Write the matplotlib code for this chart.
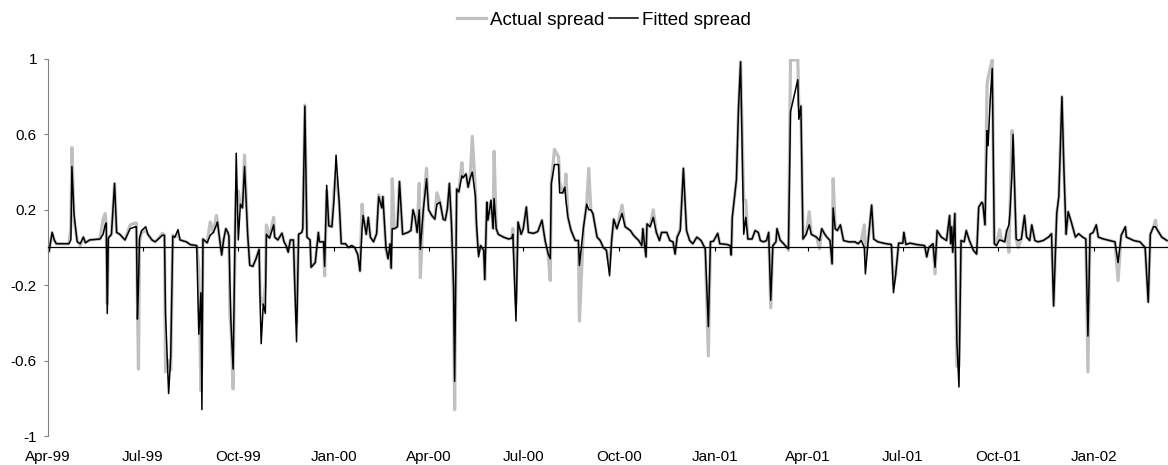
import matplotlib
matplotlib.use("Agg")
import matplotlib.pyplot as plt
import matplotlib.dates as mdates
import pandas as pd

plt.rcParams['font.family'] = ['Liberation Sans', 'DejaVu Sans']
plt.rcParams['font.size'] = 11

start = pd.Timestamp("1999-04-01")

# days since 1 Apr 1999
days = [
    # Q2-Q3 99
    1, 4, 6, 8, 20, 22, 23, 25, 28, 31,
    34, 36, 40, 50, 53, 55, 56, 57, 58, 61,
    64, 66, 69, 74, 79, 84, 85, 86, 87, 88,
    90, 94, 96, 100, 103, 106, 110, 112, 113, 116,
    118, 120, 122, 125, 127, 133, 137,
    # Q3 99 - Q1 00
    143, 145, 147, 148, 149, 153, 156, 159, 162, 163,
    167, 169, 171, 173, 174, 175, 176, 178, 180, 181,
    183, 185, 187, 189, 192, 194, 197, 200, 203, 204,
    205, 207, 209, 210, 213, 217, 218, 221, 225, 227,
    229, 231, 233, 236, 237, 239, 241, 244, 245, 247,
    249, 252, 253, 257, 260, 261, 265, 266, 268, 270,
    273, 275, 277, 280, 282, 286, 289, 292, 295, 298,
    300, 302, 303, 306, 308,
    # Q1 00 - Q3 00
    310, 313, 316, 318, 321, 322, 325, 327, 329, 330,
    331, 333, 336, 338, 341, 346, 349, 351, 353, 355,
    357, 358, 361, 364, 366, 369, 372, 374, 377, 380,
    382, 384, 386, 388, 390, 391, 393, 395, 398, 399,
    402, 404, 406, 408, 411, 412, 414, 416, 419, 420,
    422, 423, 426, 428, 429, 431, 433, 438, 443, 446,
    447, 450, 452, 455, 457, 460, 462, 467, 471, 475,
    478, 481, 483,
    # Q3 00 - Q1 01
    484, 487, 491, 492, 495, 497, 498, 500, 503, 507,
    510, 511, 515, 518, 520, 522, 524, 528, 531, 534,
    537, 540, 542, 544, 547, 552, 555, 560, 563, 568,
    571, 572, 575, 576, 579, 582, 585, 588, 590, 595,
    598, 601, 603, 605, 608, 611, 614, 617, 620, 624,
    628, 632, 635, 637, 640, 644, 646, 653,
    # Q1 01 - Q3 01
    656, 657, 658, 662, 664, 666, 669, 671, 673, 677,
    680, 683, 685, 688, 691, 693, 695, 697, 700, 701,
    704, 709, 712, 714, 721, 722, 724, 726, 729, 732,
    734, 739, 742, 744, 747, 749, 752, 754, 755, 757,
    759, 762, 765, 770, 776, 779, 782, 785, 786, 789,
    792, 794, 798, 806, 811, 813, 815, 818,
    # Q3 01 - Q1 02
    822, 823, 825, 829, 835, 843, 845, 847, 851, 853,
    855, 859, 864, 867, 868, 869, 870, 872, 874, 876,
    878, 881, 883, 886, 890, 893, 895, 898, 899, 901,
    903, 904, 906, 908, 910, 912, 915, 917, 920, 922,
    924, 925, 927, 928, 931, 933, 936, 939, 941, 944,
    946, 949, 952, 957, 962, 965, 967, 970, 972, 975,
    977, 979, 981, 984, 988, 991, 995, 998, 1000, 1002,
    1005, 1008, 1010, 1015, 1021, 1026, 1029, 1032, 1036, 1037,
    1044, 1050, 1055, 1058, 1060, 1063, 1065, 1066, 1071, 1076,
]

actual = [
    -0.02, 0.08, 0.04, 0.02, 0.02, 0.10, 0.53, 0.15, 0.04, 0.01,
    0.055, 0.025, 0.04, 0.045, 0.15, 0.18, 0.12, -0.30, 0.05, 0.07,
    0.34, 0.08, 0.07, 0.04, 0.12, 0.13, 0.13, -0.30, -0.645, 0.03,
    0.08, 0.09, 0.07, 0.04, 0.03, 0.045, 0.075, 0.065, -0.66, -0.60,
    -0.65, 0.065, 0.055, 0.07, 0.04, 0.03, 0.015,
    0.01, -0.11, -0.76, -0.60, 0.045, 0.025, 0.135, 0.08, 0.17, 0.13,
    -0.04, 0.045, 0.10, 0.08, 0.06, -0.37, -0.42, -0.75, 0.10, 0.30,
    0.30, 0.22, 0.21, 0.49, 0.07, -0.09, -0.10, -0.06, -0.01, -0.25,
    -0.30, -0.30, -0.20, 0.12, 0.05, 0.16, 0.055, 0.04, 0.076, 0.03,
    0.01, -0.025, 0.04, 0.04, -0.12, -0.40, 0.07, 0.08, 0.10, 0.755,
    0.055, 0.04, -0.105, -0.08, 0.08, 0.03, 0.03, -0.15, 0.30, 0.115,
    0.11, 0.30, 0.40, 0.24, 0.02, 0.02, 0.0, 0.01, 0.0, -0.04,
    -0.125, 0.23, 0.17, 0.07, 0.16,
    0.055, 0.03, 0.073, 0.28, 0.21, 0.27, -0.015, -0.06, 0.02, -0.11,
    0.365, 0.10, 0.11, 0.35, 0.07, 0.08, 0.09, 0.20, 0.16, 0.08,
    0.34, -0.16, 0.205, 0.42, 0.20, 0.17, 0.15, 0.29, 0.24, 0.15,
    0.145, 0.205, 0.34, 0.125, -0.30, -0.86, 0.31, 0.295, 0.45, 0.37,
    0.39, 0.32, 0.37, 0.59, 0.30, 0.11, -0.03, 0.01, -0.015, -0.17,
    0.24, 0.145, 0.25, 0.10, 0.51, 0.10, 0.07, 0.055, 0.045, 0.05,
    0.10, -0.30, 0.135, 0.07, 0.10, 0.215, 0.08, 0.075, 0.085, 0.145,
    0.037, -0.035, -0.175,
    0.34, 0.52, 0.48, 0.35, 0.29, 0.30, 0.39, 0.16, 0.09, 0.037,
    0.037, -0.39, 0.11, 0.23, 0.42, 0.20, 0.18, 0.055, 0.037, 0.0,
    -0.015, -0.10, 0.037, 0.15, 0.10, 0.225, 0.11, 0.09, 0.065, 0.037,
    0.01, 0.10, -0.05, 0.125, 0.11, 0.20, 0.08, 0.037, 0.08, 0.08,
    0.037, 0.03, -0.035, 0.055, 0.10, 0.42, 0.09, 0.037, 0.02, 0.055,
    0.037, -0.007, -0.575, 0.03, 0.034, 0.075, 0.02, 0.016,
    0.01, -0.04, 0.16, 0.36, 0.74, 0.985, 0.25, 0.25, 0.045, 0.045,
    0.09, 0.08, 0.037, 0.03, 0.037, 0.08, -0.32, 0.01, 0.03, 0.10,
    0.04, 0.01, -0.015, 0.995, 0.995, 0.75, 0.75, 0.045, 0.07, 0.19,
    0.07, 0.055, -0.007, 0.10, 0.07, 0.055, 0.037, -0.087, 0.365, 0.10,
    0.09, 0.12, 0.037, 0.03, 0.03, 0.02, 0.037, 0.12, -0.05, 0.055,
    0.225, 0.045, 0.03, 0.02, 0.016, -0.20, -0.15, 0.023,
    0.023, 0.08, 0.016, 0.023, 0.016, 0.01, -0.05, 0.0, 0.02, -0.14,
    0.09, 0.055, 0.037, 0.17, 0.02, 0.11, -0.025, 0.18, -0.63, -0.63,
    0.037, 0.03, 0.09, 0.037, -0.016, -0.035, 0.215, 0.24, 0.23, 0.12,
    0.86, 0.90, 0.95, 0.995, 0.02, 0.01, 0.095, 0.037, 0.03, 0.09,
    -0.025, 0.18, 0.62, 0.55, 0.045, 0.0, 0.045, 0.17, 0.055, 0.037,
    0.12, 0.037, 0.03, 0.037, 0.055, 0.073, -0.31, 0.18, 0.27, 0.80,
    0.40, 0.07, 0.19, 0.135, 0.055, 0.073, 0.055, 0.045, -0.66, 0.07,
    0.08, 0.12, 0.055, 0.045, 0.037, 0.03, -0.175, 0.065, 0.11, 0.055,
    0.037, 0.03, 0.0, -0.29, 0.07, 0.11, 0.145, 0.10, 0.055, 0.037,
]

fitted = [
    -0.02, 0.08, 0.04, 0.02, 0.02, 0.04, 0.43, 0.18, 0.03, 0.02,
    0.055, 0.025, 0.04, 0.045, 0.07, 0.12, 0.13, -0.35, 0.05, 0.07,
    0.34, 0.08, 0.07, 0.04, 0.10, 0.11, 0.11, -0.38, -0.20, 0.05,
    0.09, 0.11, 0.07, 0.04, 0.03, 0.045, 0.065, 0.065, -0.35, -0.775,
    -0.58, 0.06, 0.055, 0.095, 0.04, 0.03, 0.015,
    0.01, -0.46, -0.24, -0.86, 0.045, 0.025, 0.065, 0.08, 0.12, 0.135,
    -0.04, 0.045, 0.10, 0.08, 0.06, -0.20, -0.41, -0.645, 0.135, 0.50,
    0.04, 0.23, 0.21, 0.43, 0.07, -0.095, -0.10, -0.06, -0.01, -0.30,
    -0.51, -0.30, -0.35, 0.07, 0.05, 0.12, 0.055, 0.04, 0.076, 0.03,
    0.01, -0.025, 0.04, 0.04, -0.15, -0.50, 0.07, 0.08, 0.10, 0.75,
    0.055, 0.04, -0.105, -0.08, 0.08, 0.03, 0.03, -0.10, 0.33, 0.115,
    0.11, 0.25, 0.49, 0.24, 0.02, 0.02, 0.0, 0.01, 0.0, -0.04,
    -0.125, 0.10, 0.17, 0.07, 0.16,
    0.055, 0.03, 0.073, 0.27, 0.21, 0.27, 0.0, -0.06, 0.02, -0.11,
    0.10, 0.10, 0.11, 0.35, 0.07, 0.08, 0.09, 0.20, 0.16, 0.08,
    0.20, -0.01, 0.205, 0.365, 0.20, 0.17, 0.15, 0.23, 0.24, 0.15,
    0.145, 0.205, 0.34, 0.125, -0.21, -0.71, 0.31, 0.295, 0.38, 0.37,
    0.39, 0.32, 0.37, 0.40, 0.27, 0.13, -0.05, 0.01, -0.015, -0.17,
    0.24, 0.145, 0.25, 0.10, 0.26, 0.10, 0.07, 0.055, 0.045, 0.05,
    0.07, -0.39, 0.135, 0.07, 0.10, 0.215, 0.08, 0.075, 0.085, 0.145,
    0.037, -0.035, -0.06,
    0.34, 0.44, 0.44, 0.29, 0.29, 0.32, 0.25, 0.16, 0.09, 0.037,
    0.037, -0.095, 0.11, 0.23, 0.20, 0.20, 0.18, 0.055, 0.037, 0.0,
    -0.015, -0.15, 0.037, 0.15, 0.10, 0.18, 0.11, 0.09, 0.065, 0.037,
    0.01, 0.10, -0.05, 0.125, 0.11, 0.16, 0.08, 0.037, 0.08, 0.08,
    0.037, 0.03, -0.035, 0.055, 0.09, 0.42, 0.09, 0.037, 0.02, 0.055,
    0.037, -0.007, -0.42, 0.03, 0.034, 0.075, 0.02, 0.016,
    0.01, -0.04, 0.16, 0.36, 0.74, 0.985, 0.07, 0.16, 0.045, 0.045,
    0.09, 0.08, 0.037, 0.03, 0.037, 0.08, -0.28, 0.01, 0.03, 0.10,
    0.04, 0.01, -0.007, 0.72, 0.89, 0.68, 0.75, 0.045, 0.07, 0.12,
    0.07, 0.055, 0.037, 0.10, 0.07, 0.055, 0.037, -0.087, 0.21, 0.10,
    0.09, 0.12, 0.037, 0.03, 0.03, 0.02, 0.037, 0.0, -0.14, 0.055,
    0.225, 0.045, 0.03, 0.02, 0.016, -0.24, -0.15, 0.023,
    0.023, 0.08, 0.016, 0.023, 0.016, 0.01, -0.05, 0.0, 0.02, -0.105,
    0.09, 0.055, 0.037, 0.17, 0.02, 0.11, -0.025, 0.18, -0.50, -0.74,
    0.037, 0.03, 0.09, 0.037, -0.016, -0.035, 0.215, 0.24, 0.23, 0.12,
    0.62, 0.54, 0.78, 0.95, 0.02, 0.01, 0.04, 0.037, 0.03, 0.09,
    0.12, 0.18, 0.40, 0.60, 0.045, 0.037, 0.045, 0.17, 0.055, 0.037,
    0.12, 0.037, 0.03, 0.037, 0.055, 0.073, -0.31, 0.18, 0.27, 0.80,
    0.40, 0.07, 0.19, 0.135, 0.055, 0.073, 0.055, 0.045, -0.47, 0.07,
    0.08, 0.12, 0.055, 0.045, 0.037, 0.03, -0.08, 0.065, 0.11, 0.055,
    0.037, 0.03, 0.0, -0.29, 0.07, 0.11, 0.11, 0.10, 0.055, 0.037,
]

yticks = [1, 0.6, 0.2, -0.2, -0.6, -1]
ytick_labels = ["1", "0.6", "0.2", "-0.2", "-0.6", "-1"]

x = mdates.date2num(start + pd.to_timedelta(days, unit="D"))
quarters = pd.date_range("1999-04-01", "2002-01-01", freq="QS")
qx = mdates.date2num(quarters)

fig = plt.figure(figsize=(11.68, 4.65), dpi=100)
ax = fig.add_axes([48 / 1168, 1 - 436 / 465, 1 - 48 / 1168, (436 - 59) / 465])

ax.plot(x, actual, color="#c0c0c0", lw=2.3, label="Actual spread")
ax.plot(x, fitted, color="black", lw=1.1, label="Fitted spread")

ax.set_ylim(-1, 1)
ax.set_xlim(mdates.date2num(start), mdates.date2num(start + pd.Timedelta(days=1077)))
ax.set_yticks(yticks)
ax.set_yticklabels(ytick_labels)
ax.tick_params(axis="y", length=3, width=0.8, color="#808080", pad=5)

# x axis crosses at zero, labels sit at the bottom
ax.set_xticks(qx)
ax.tick_params(axis="x", labelbottom=False, length=3, width=0.8, direction="out")
ax.spines["bottom"].set_position(("data", 0))
ax.spines["bottom"].set_linewidth(0.9)
ax.spines["top"].set_visible(False)
ax.spines["right"].set_visible(False)
ax.spines["left"].set_color("#808080")

sec = ax.secondary_xaxis("bottom")
sec.set_xticks(qx, labels=[d.strftime("%b-%y") for d in quarters])
sec.tick_params(length=0, pad=10)
sec.spines["bottom"].set_visible(False)

fig.legend(loc="center", bbox_to_anchor=(604 / 1168, 1 - 20 / 465), ncol=2,
           frameon=False, fontsize=13.5, handlelength=1.55, handletextpad=0.2,
           columnspacing=0.25)

fig.savefig("out.png", dpi=100)
